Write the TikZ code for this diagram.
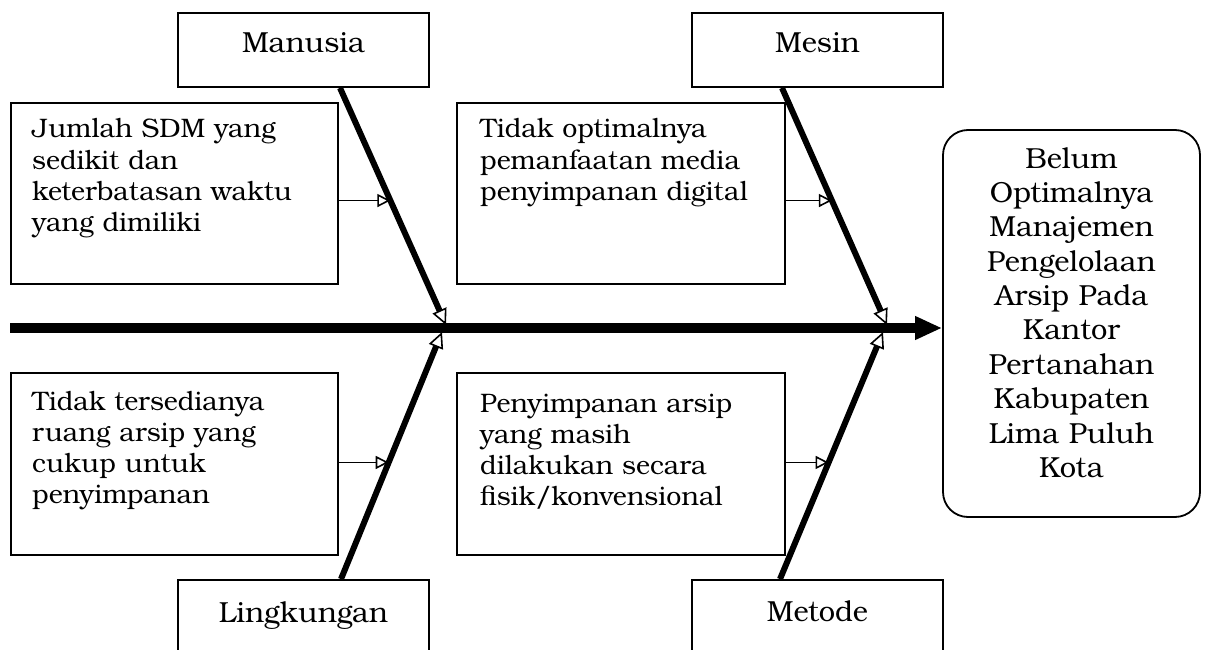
\documentclass[tikz,border=0pt]{standalone}
\usepackage{fontspec}
\setmainfont{TeX Gyre Bonum}
\usetikzlibrary{arrows.meta}
\begin{document}
\begin{tikzpicture}[x=1pt,y=-1pt,
  box/.style={draw, line width=1.8pt, inner sep=0pt},
  lbl/.style={font=\fontsize{29}{34.4}\selectfont, inner sep=0pt, anchor=base},
  txt/.style={font=\fontsize{26.75}{31.3}\selectfont, inner sep=0pt, align=left, text width=300pt, anchor=base west},
  bone/.style={line width=6pt, -{Triangle[open, length=16pt, width=15pt, line width=1.6pt]}},
  feeder/.style={line width=1.8pt, -{Triangle[open, length=13pt, width=13pt, line width=1.6pt]}}]
\useasboundingbox (0,0) rectangle (1205,650);

% category boxes
\node[box, minimum width=251pt, minimum height=74pt] (manusia) at (303.5,50) {};
\node[box, minimum width=251pt, minimum height=74pt] (mesin) at (817.5,50) {};
\node[box, minimum width=251pt, minimum height=74pt] (lingkungan) at (303.5,617) {};
\node[box, minimum width=251pt, minimum height=74pt] (metode) at (817.5,617) {};
\node[lbl] (manusiat) at (303.5,53) {Manusia};
\node[lbl] (mesint) at (817.5,53) {Mesin};
\node[lbl] (lingkungant) at (303.5,622) {Lingkungan};
\node[lbl] (metodet) at (817.5,621) {Metode};

% cause boxes
\node[box, minimum width=327pt, minimum height=181pt] (c1) at (174.5,193.5) {};
\node[box, minimum width=328pt, minimum height=181pt] (c2) at (621,193.5) {};
\node[box, minimum width=327pt, minimum height=182pt] (c3) at (174.5,464) {};
\node[box, minimum width=328pt, minimum height=182pt] (c4) at (621,464) {};
\node[txt] (c1t) at (32,138) {Jumlah SDM yang\\sedikit dan\\keterbatasan waktu\\yang dimiliki};
\node[txt] (c2t) at (480,138) {Tidak optimalnya\\pemanfaatan media\\penyimpanan digital};
\node[txt] (c3t) at (32,410) {Tidak tersedianya\\ruang arsip yang\\cukup untuk\\penyimpanan};
\node[txt] (c4t) at (480,412) {Penyimpanan arsip\\yang masih\\dilakukan secara\\fisik/konvensional};

% effect box
\node[box, rounded corners=25pt, minimum width=257pt, minimum height=387pt] (effect) at (1071.5,323.5) {};
\node[lbl, align=center, text width=250pt] (effectt) at (1071.5,168) {Belum\\Optimalnya\\Manajemen\\Pengelolaan\\Arsip Pada\\Kantor\\Pertanahan\\Kabupaten\\Lima Puluh\\Kota};

% spine
\coordinate (s0) at (10,328);
\draw[line width=10pt, -{Triangle[length=27pt, width=22pt]}] (s0) -- (effect.west |- s0);

% bones
\coordinate (mstart) at ([xshift=36.5pt]manusia.south);
\coordinate (sstart) at ([xshift=-35.5pt]mesin.south);
\coordinate (lstart) at ([xshift=37.5pt]lingkungan.north);
\coordinate (tstart) at ([xshift=-37.5pt]metode.north);
\coordinate (mtip) at (446,325);
\coordinate (stip) at (887,325);
\coordinate (ltip) at (442,332);
\coordinate (ttip) at (883,332);
\draw[bone] (mstart) -- (mtip);
\draw[bone] (sstart) -- (stip);
\draw[bone] (lstart) -- (ltip);
\draw[bone] (tstart) -- (ttip);

% feeders
\path (mstart) -- (mtip) coordinate[pos=0.475] (mfeed);
\path (sstart) -- (stip) coordinate[pos=0.475] (sfeed);
\path (lstart) -- (ltip) coordinate[pos=0.472] (lfeed);
\path (tstart) -- (ttip) coordinate[pos=0.472] (tfeed);
\draw[feeder] (c1.east |- mfeed) -- (mfeed);
\draw[feeder] (c2.east |- sfeed) -- (sfeed);
\draw[feeder] (c3.east |- lfeed) -- (lfeed);
\draw[feeder] (c4.east |- tfeed) -- (tfeed);
\end{tikzpicture}
\end{document}
